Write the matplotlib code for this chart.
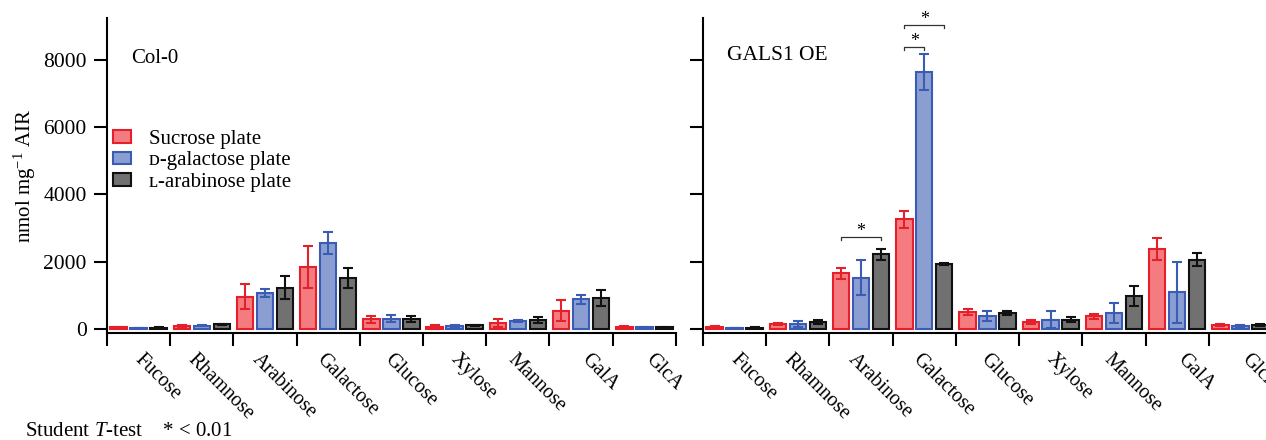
import matplotlib.pyplot as plt
import matplotlib.transforms as mtransforms
from matplotlib.patches import Patch
import numpy as np

plt.rcParams['font.family'] = ['Liberation Serif', 'DejaVu Sans']
plt.rcParams['mathtext.fontset'] = 'custom'
plt.rcParams['mathtext.rm'] = 'Liberation Serif'
plt.rcParams['mathtext.it'] = 'Liberation Serif:italic'

# ---- data (nmol mg-1 AIR) ----
sugars = ['Fucose', 'Rhamnose', 'Arabinose', 'Galactose', 'Glucose',
          'Xylose', 'Mannose', 'GalA', 'GlcA']
plates = ['Sucrose plate', 'ᴅ-galactose plate', 'ʟ-arabinose plate']

# Col-0
col_suc = [50, 90, 960, 1850, 290, 70, 170, 545, 70]
col_suc_err = [10, 20, 380, 620, 100, 60, 120, 315, 15]
col_gal = [30, 100, 1060, 2560, 305, 90, 240, 880, 50]
col_gal_err = [8, 20, 120, 330, 100, 20, 30, 130, 10]
col_ara = [40, 140, 1230, 1505, 300, 110, 270, 920, 55]
col_ara_err = [8, 20, 350, 300, 90, 20, 95, 240, 12]

# GALS1 OE
oe_suc = [60, 150, 1660, 3260, 510, 200, 375, 2390, 130]
oe_suc_err = [15, 40, 165, 260, 80, 65, 70, 325, 30]
oe_gal = [30, 150, 1530, 7650, 395, 275, 475, 1095, 90]
oe_gal_err = [10, 95, 510, 540, 145, 250, 285, 910, 25]
oe_ara = [40, 215, 2220, 1945, 475, 275, 975, 2060, 110]
oe_ara_err = [10, 60, 170, 30, 65, 70, 290, 200, 25]

# significance brackets on the GALS1 OE panel: (sugar, bar a, bar b, height)
sig_pairs = [('Arabinose', 0, 2, 2730),
             ('Galactose', 0, 1, 8385),
             ('Galactose', 0, 2, 9030)]

face_colors = ['#F47C80', '#8A9ED1', '#717171']
edge_colors = ['#E5202A', '#3B5CB4', '#111111']
offsets = [-0.316, 0.0, 0.316]
bar_w = 0.26

fig = plt.figure(figsize=(12.66, 4.4), dpi=100)
ax1 = fig.add_axes([0.0845, 0.2432, 0.4494, 0.7159])
ax2 = fig.add_axes([0.5553, 0.2432, 0.4494, 0.7159])

x = np.arange(len(sugars)) + 0.5


def draw_panel(ax, series, errors):
    for k in range(3):
        ax.bar(x + offsets[k], series[k], width=bar_w, color=face_colors[k],
               edgecolor=edge_colors[k], linewidth=1.5, zorder=2)
        ax.errorbar(x + offsets[k], series[k], yerr=errors[k], fmt='none',
                    ecolor=edge_colors[k], elinewidth=1.5, capsize=3.8,
                    capthick=1.5, zorder=3)
    ax.set_xlim(0, len(sugars))
    ax.set_ylim(-120, 9250)
    for s in ['top', 'right']:
        ax.spines[s].set_visible(False)
    for s in ['left', 'bottom']:
        ax.spines[s].set_linewidth(1.5)
    ax.set_yticks([0, 2000, 4000, 6000, 8000])
    ax.tick_params(axis='y', length=9.5, width=1.5, labelsize=15.5, pad=5)
    ax.set_xticks(np.arange(len(sugars) + 1))
    ax.set_xticklabels([])
    ax.set_xticks(x, minor=True)
    ax.set_xticklabels(sugars, minor=True, rotation=-45, ha='center',
                       va='top', fontsize=14.5)
    ax.tick_params(axis='x', which='major', length=9, width=1.5)
    ax.tick_params(axis='x', which='minor', length=0, pad=12)
    shift = mtransforms.ScaledTranslation(0.19, 0, fig.dpi_scale_trans)
    for lab in ax.get_xticklabels(minor=True):
        lab.set_transform(lab.get_transform() + shift)


draw_panel(ax1, [col_suc, col_gal, col_ara],
           [col_suc_err, col_gal_err, col_ara_err])
draw_panel(ax2, [oe_suc, oe_gal, oe_ara],
           [oe_suc_err, oe_gal_err, oe_ara_err])
ax2.set_yticklabels([])

ax1.set_ylabel('nmol mg$^{-1}$ AIR', fontsize=15, labelpad=4)
ax1.text(0.042, 0.857, 'Col-0', transform=ax1.transAxes, fontsize=15,
         va='baseline')
ax2.text(0.0416, 0.867, 'GALS1 OE', transform=ax2.transAxes, fontsize=15.5,
         va='baseline')

handles = [Patch(facecolor=face_colors[k], edgecolor=edge_colors[k],
                 linewidth=1.5) for k in range(3)]
ax1.legend(handles, plates, loc='upper left', bbox_to_anchor=(0.0105, 0.645),
           frameon=False, fontsize=15, handlelength=0.87, handleheight=0.53,
           handletextpad=0.85, labelspacing=0.12, borderpad=0, borderaxespad=0)

# significance brackets
for name, a, b, h in sig_pairs:
    g = sugars.index(name) + 0.5
    x1, x2 = g + offsets[a], g + offsets[b]
    ax2.plot([x1, x1, x2, x2], [h - 90, h, h, h - 90], color='#333333',
             linewidth=0.9, clip_on=False, zorder=4)
    ax2.annotate('*', xy=((x1 + x2) / 2, h), xytext=(0, 4),
                 textcoords='offset points', ha='center', va='center',
                 fontsize=13, annotation_clip=False)

fig.text(0.0197, 0.008, 'Student $T$-test    * < 0.01', fontsize=15,
         va='baseline')

fig.savefig('out.png', dpi=100)
